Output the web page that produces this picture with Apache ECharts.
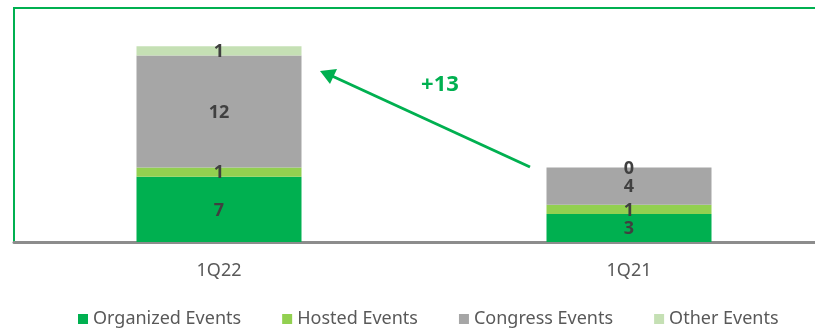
<!DOCTYPE html>
<html><head><meta charset="utf-8">
<script src="https://cdn.jsdelivr.net/npm/echarts@6/dist/echarts.min.js"></script>
<style>html,body{margin:0;padding:0;background:#fff}#c{width:815px;height:328px}</style>
</head><body><div id="c"></div>
<script>
const categories = ['1Q22', '1Q21'];
const organized = [7, 3];
const hosted = [1, 1];
const congress = [12, 4];
const other = [1, 0];
const seriesNames = ['Organized Events', 'Hosted Events', 'Congress Events', 'Other Events'];
const colors = ['#00b050', '#92d050', '#a6a6a6', '#c5e0b4'];
const deltaLabel = '+13';

const FONT = '"Noto Sans", sans-serif';
const chart = echarts.init(document.getElementById('c'));
const lbl = {show: true, position: 'inside', color: '#404040', fontWeight: 'bold', fontSize: 18,
  fontFamily: FONT, offset: [0, 1]};
const mk = (name, data, color) => ({
  name, type: 'bar', stack: 'total', data, barWidth: 165,
  itemStyle: {color}, label: lbl, emphasis: {disabled: true}
});
const s = [mk(seriesNames[0], organized, colors[0]), mk(seriesNames[1], hosted, colors[1]),
           mk(seriesNames[2], congress, colors[2]), mk(seriesNames[3], other, colors[3])];
chart.setOption({
  animation: false,
  grid: {left: 14, top: 9, width: 820, height: 233, outerBoundsMode: 'none', containLabel: false},
  xAxis: {type: 'category', data: categories,
    axisLine: {lineStyle: {color: '#8c8c8c', width: 3}}, axisTick: {show: false},
    axisLabel: {color: '#595959', fontSize: 18, fontFamily: FONT, margin: 20}},
  yAxis: {type: 'value', min: 0, max: 25, show: false, splitLine: {show: false}},
  legend: {top: 305, left: 73, itemWidth: 10, itemHeight: 10, itemGap: 41,
    icon: 'rect', textStyle: {color: '#595959', fontSize: 18, fontFamily: FONT},
    data: seriesNames},
  series: s,
  graphic: [
    {type: 'polyline', shape: {points: [[14, 242], [14, 8], [815, 8]]},
     style: {stroke: '#00b050', lineWidth: 2, fill: null}},
    {type: 'line', shape: {x1: 530, y1: 167, x2: 332, y2: 76},
     style: {stroke: '#00b050', lineWidth: 3}},
    {type: 'polygon', shape: {points: [[320, 71], [337, 69], [330, 84]]},
     style: {fill: '#00b050'}},
    {type: 'text', x: 440, y: 85, style: {text: deltaLabel, fill: '#00b050',
     font: 'bold 22px ' + FONT, align: 'center', verticalAlign: 'middle'}}
  ]
});
</script></body></html>
